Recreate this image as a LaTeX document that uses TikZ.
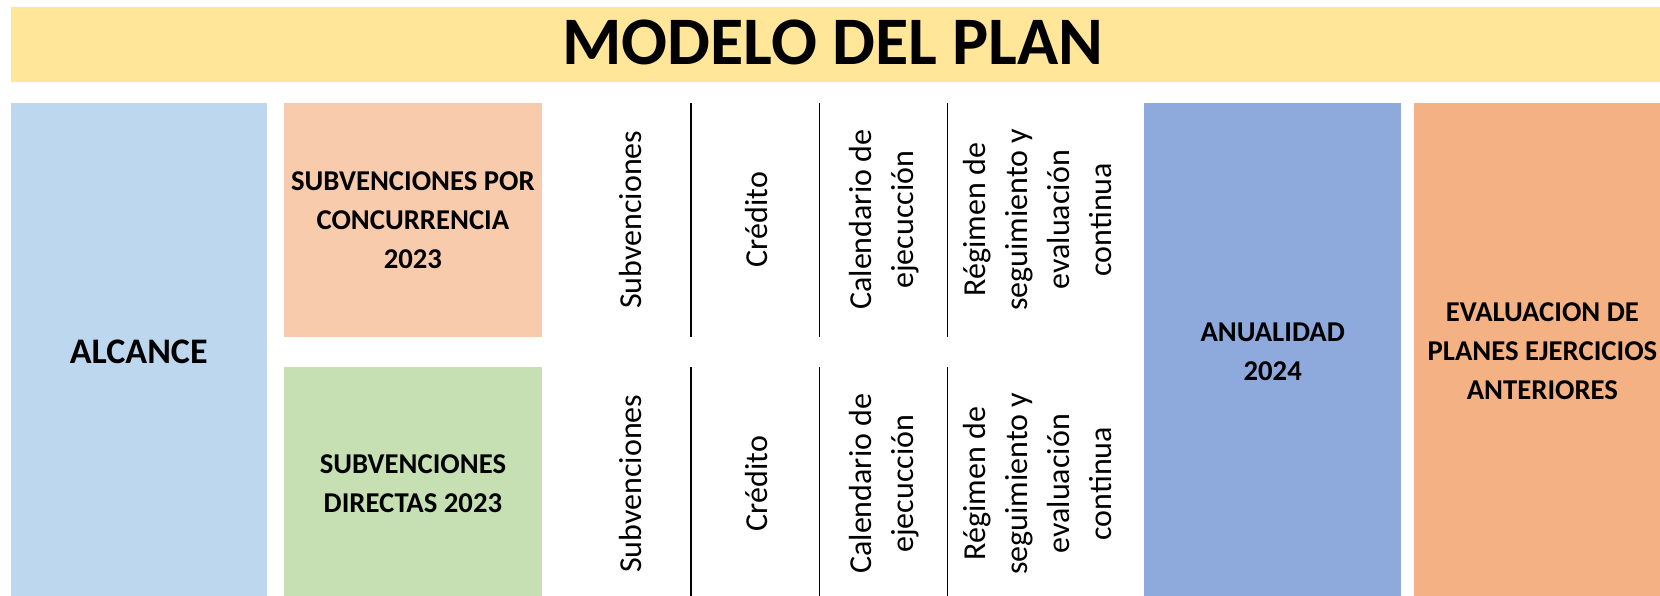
\documentclass[tikz,border=0pt]{standalone}
\usepackage{fontspec}
\setmainfont{Carlito}

\definecolor{amarillo}{HTML}{FFE699}
\definecolor{azulclaro}{HTML}{BDD7EE}
\definecolor{naranjaclaro}{HTML}{F8CBAD}
\definecolor{verdeclaro}{HTML}{C6E0B4}
\definecolor{azul}{HTML}{8EA9DB}
\definecolor{naranja}{HTML}{F4B183}

\begin{document}
\begin{tikzpicture}[x=1pt,y=-1pt,
  bloque/.style={inner sep=0pt,align=center,minimum width=257pt,
    font=\bfseries\fontsize{28.7}{39}\selectfont},
  vertical/.style={rotate=90,inner sep=0pt,align=center,
    font=\fontsize{32}{42}\selectfont},
  sep/.style={draw=black,line width=1.6pt}]
\useasboundingbox (0,0) rectangle (1660,596);

% titulo
\node[inner sep=0pt,fill=amarillo,minimum width=1650pt,minimum height=75pt] (banda) at (835.5,45) {};
\node[inner sep=0pt,font=\bfseries\fontsize{68}{80}\selectfont] (titulo) at (833,42) {MODELO DEL PLAN};

% bloques
\node[bloque,fill=azulclaro,minimum width=256pt,minimum height=497pt,font=\bfseries\fontsize{36}{44}\selectfont] (alcance) at (138.7,351.4) {ALCANCE};
\node[bloque,fill=naranjaclaro,minimum width=258pt,minimum height=234pt] (concurrencia) at (412.9,219.7) {SUBVENCIONES POR\\CONCURRENCIA\\2023};
\node[bloque,fill=verdeclaro,minimum width=258pt,minimum height=233pt] (directas) at (412.9,483.7) {SUBVENCIONES\\DIRECTAS 2023};
\node[bloque,fill=azul,minimum height=497pt] (anualidad) at (1272.7,351.4) {ANUALIDAD\\2024};
\node[bloque,fill=naranja,minimum height=497pt] (evaluacion) at (1542.4,351.4) {EVALUACION DE\\PLANES EJERCICIOS\\ANTERIORES};

% columnas verticales
\node[vertical] (sub1) at (631,219.7) {Subvenciones};
\node[vertical] (cre1) at (756,219.7) {Crédito};
\node[vertical] (cal1) at (884,219.7) {Calendario de\\ejecucción};
\node[vertical] (reg1) at (1037.5,219.7) {Régimen de\\seguimiento y\\evaluación\\continua};
\node[vertical] (sub2) at (631,483.7) {Subvenciones};
\node[vertical] (cre2) at (756,483.7) {Crédito};
\node[vertical] (cal2) at (884,483.7) {Calendario de\\ejecucción};
\node[vertical] (reg2) at (1037.5,483.7) {Régimen de\\seguimiento y\\evaluación\\continua};

% separadores
\foreach \x [count=\i] in {691,819.5,947.5}{
  \coordinate (ua\i) at (\x,103);
  \coordinate (ub\i) at (\x,337);
  \coordinate (da\i) at (\x,367);
  \coordinate (db\i) at (\x,600);
  \path[sep] (ua\i) -- (ub\i);
  \path[sep] (da\i) -- (db\i);
}
\end{tikzpicture}
\end{document}
